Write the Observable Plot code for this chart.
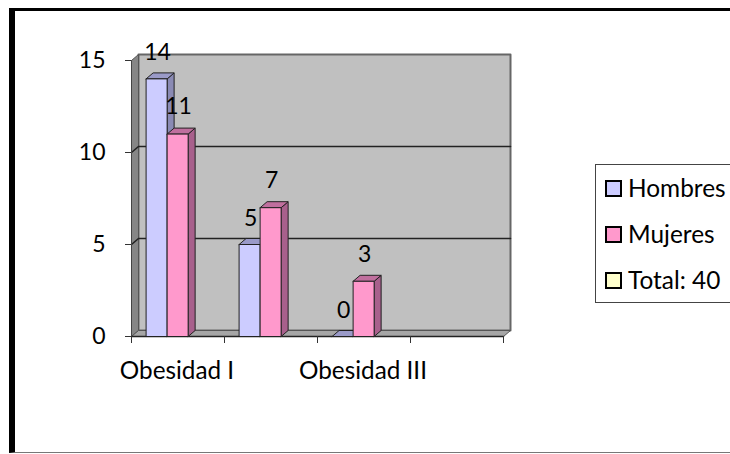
<!DOCTYPE html>
<html>
<head>
<meta charset="utf-8">
<script src="https://cdn.jsdelivr.net/npm/d3@7"></script>
<script src="https://cdn.jsdelivr.net/npm/@observablehq/plot@0.6"></script>
<style>
html,body{margin:0;padding:0;background:#fff;overflow:hidden;width:730px;height:454px}
#wrap{position:relative;width:730px;height:454px;overflow:hidden;font-family:Lato,"Open Sans",sans-serif;color:#000}
#frame{position:absolute;left:9px;top:8px;width:760px;height:445px;border-left:6px solid #000;border-top:3px solid #000;border-bottom:1px solid #777;box-sizing:border-box}
#chart{position:absolute;left:0;top:0}
#legend{position:absolute;left:595px;top:164px;width:200px;height:139px;border:1px solid #444;box-sizing:border-box;background:#fff}
.it{position:absolute;left:9px;display:flex;align-items:center;font-size:24.4px;line-height:18px;white-space:nowrap}
.sw{width:13px;height:13px;border:2px solid #000;margin-right:6px;display:inline-block;flex:none}
</style>
</head>
<body>
<div id="wrap"><div id="frame"></div><div id="chart"></div><div id="legend"></div></div>
<script>
const categories = ["Obesidad I", "Obesidad II", "Obesidad III", ""];
const shownCategoryAt = [0.5, 2.5];
const shownCategoryText = ["Obesidad I", "Obesidad III"];
const hombres = [14, 5, 0];
const mujeres = [11, 7, 3];
const legendNames = ["Hombres", "Mujeres", "Total: 40"];
const legendColors = ["#CCCCFF", "#FF99CC", "#FFFFCC"];
const yTicks = [0, 5, 10, 15];
const xTicks = [0, 1, 2, 3, 4];

// 3D extrusion, in data units
const depthX = 7 / 93, depthY = 6 / 18.4;
const barStart = 0.157, barW = 0.226;

function poly(pts, fill, stroke = "#222", sw = 1) {
  return Plot.line([...pts, pts[0]], {x: d => d[0], y: d => d[1], fill, stroke, strokeWidth: sw, curve: "linear"});
}
function bar3d(x0, v, front, side, top) {
  const x1 = x0 + barW;
  return [
    poly([[x1, 0], [x1 + depthX, depthY], [x1 + depthX, v + depthY], [x1, v]], side),
    poly([[x0, v], [x0 + depthX, v + depthY], [x1 + depthX, v + depthY], [x1, v]], top),
    poly([[x0, 0], [x1, 0], [x1, v], [x0, v]], front)
  ];
}

const marks = [
  // back wall, left wall, floor
  poly([[depthX, depthY], [4 + depthX, depthY], [4 + depthX, 15 + depthY], [depthX, 15 + depthY]], "#C0C0C0", "#666", 2),
  poly([[0, 0], [depthX, depthY], [depthX, 15 + depthY], [0, 15]], "#868686", "#555", 1),
  poly([[0, 0], [4, 0], [4 + depthX, depthY], [depthX, depthY]], "#A6A6A6", "#555", 1),
  // gridlines on the wall
  ...yTicks.slice(1, 3).map(v => Plot.line([[0, v], [depthX, v + depthY], [4 + depthX, v + depthY]], {x: d => d[0], y: d => d[1], stroke: "#222", strokeWidth: 1.6, curve: "linear"})),
  Plot.line([[0, 0], [4, 0]], {x: d => d[0], y: d => d[1], stroke: "#222", strokeWidth: 1.5}),
  Plot.line([[0, 0], [0, 15]], {x: d => d[0], y: d => d[1], stroke: "#444", strokeWidth: 1}),
  // bars
  ...hombres.flatMap((v, i) => [
    ...bar3d(i + barStart, v, "#CCCCFF", "#8A8AB4", "#9A9AC8"),
    ...bar3d(i + barStart + barW, mujeres[i], "#FF99CC", "#A8608C", "#C06F9E")
  ]),
  // value labels
  Plot.text(hombres.map((v, i) => ({x: i + barStart + barW / 2, v})), {x: "x", y: "v", text: d => String(d.v), dx: 1, dy: -26, fontSize: 23}),
  Plot.text(mujeres.map((v, i) => ({x: i + barStart + 1.5 * barW, v})), {x: "x", y: "v", text: d => String(d.v), dx: 1, dy: -27, fontSize: 23}),
  // axes
  Plot.axisY({ticks: yTicks, tickSize: 6, tickPadding: 20, fontSize: 23, stroke: "#333", tickFormat: d => d, label: null}),
  Plot.axisX({ticks: xTicks, tickSize: 7, tickFormat: () => "", stroke: "#333", label: null}),
  Plot.axisX({ticks: shownCategoryAt, tickSize: 0, tickPadding: 25, dx: -1, fontSize: 24.3, tickFormat: d => shownCategoryText[shownCategoryAt.indexOf(d)], label: null})
];

const plot = Plot.plot({
  width: 730, height: 454,
  marginLeft: 131, marginRight: 227, marginTop: 60, marginBottom: 118,
  style: {background: "transparent", fontFamily: "Lato, 'Open Sans', sans-serif", color: "#000", overflow: "visible"},
  x: {type: "linear", domain: [0, 4]},
  y: {type: "linear", domain: [0, 15]},
  marks
});
document.getElementById("chart").appendChild(plot);

const leg = document.getElementById("legend");
legendNames.forEach((n, i) => {
  const it = document.createElement("div");
  it.className = "it";
  it.style.top = (14 + i * 46) + "px";
  const s = document.createElement("span");
  s.className = "sw"; s.style.background = legendColors[i];
  const t = document.createElement("span");
  t.textContent = n;
  it.append(s, t);
  leg.appendChild(it);
});
</script>
</body>
</html>
